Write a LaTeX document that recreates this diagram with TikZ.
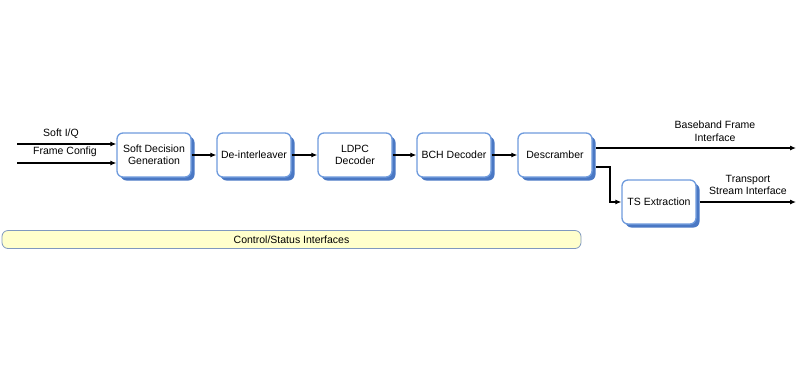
\documentclass[tikz,border=0pt]{standalone}
\usepackage{fontspec}
\setmainfont{Liberation Sans}
\usetikzlibrary{arrows.meta,shadows}
\definecolor{bborder}{HTML}{6F9BDD}
\definecolor{bshadow}{HTML}{4A78C4}
\definecolor{barfill}{HTML}{FFFFCC}
\definecolor{barborder}{HTML}{7F98BF}
\begin{document}
\begin{tikzpicture}[x=1pt,y=-1pt,
  blk/.style={draw=bborder,line width=1.3pt,fill=white,rounded corners=6pt,
    minimum width=74pt,minimum height=44pt,inner sep=1pt,align=center,
    font=\fontsize{10.5}{12}\selectfont,
    drop shadow={shadow xshift=3.5pt,shadow yshift=-3.5pt,fill=bshadow,opacity=1}},
  conn/.style={draw=black,line width=1.1pt,-{Latex[length=6pt,width=5pt]}},
  lbl/.style={font=\fontsize{10.5}{12.5}\selectfont,align=center,inner sep=0pt}]
\useasboundingbox (0,0) rectangle (800,368);
\node[blk] (sdg) at (154,155) {Soft Decision\\Generation};
\node[blk] (dei) at (254,155) {De-interleaver};
\node[blk] (ldpc) at (355,155) {LDPC\\Decoder};
\node[blk] (bch) at (454,155) {BCH Decoder};
\node[blk] (des) at (555,155) {Descramber};
\node[blk] (ts) at (659,202) {TS Extraction};
\coordinate (iq) at (17,144);
\coordinate (fc) at (17,163);
\draw[conn] (iq) -- (iq -| sdg.west);
\draw[conn] (fc) -- (fc -| sdg.west);
\node[lbl] (liq) at (61,134) {Soft I/Q};
\node[lbl] (lfc) at (65,152) {Frame Config};
\draw[conn] (sdg) -- (dei);
\draw[conn] (dei) -- (ldpc);
\draw[conn] (ldpc) -- (bch);
\draw[conn] (bch) -- (des);
\coordinate (bbs) at (596,148);
\coordinate (bbe) at (796,148);
\draw[conn] (bbs) -- (bbe);
\node[lbl] (lbb) at (715,131) {Baseband Frame\\Interface};
\coordinate (brs) at (596,167);
\coordinate (brc) at (610,167);
\draw[conn] (brs) -- (brc) |- (ts.west);
\coordinate (tse) at (796,202);
\draw[conn] (ts.east) ++(3,0) -- (tse);
\node[lbl] (lts) at (748,185) {Transport\\Stream Interface};
\node[draw=barborder,line width=0.8pt,fill=barfill,rounded corners=6pt,
  minimum width=579pt,minimum height=18pt,inner sep=0pt,
  font=\fontsize{10.5}{12}\selectfont] (ctl) at (291.5,239.5) {Control/Status Interfaces};
\end{tikzpicture}
\end{document}
